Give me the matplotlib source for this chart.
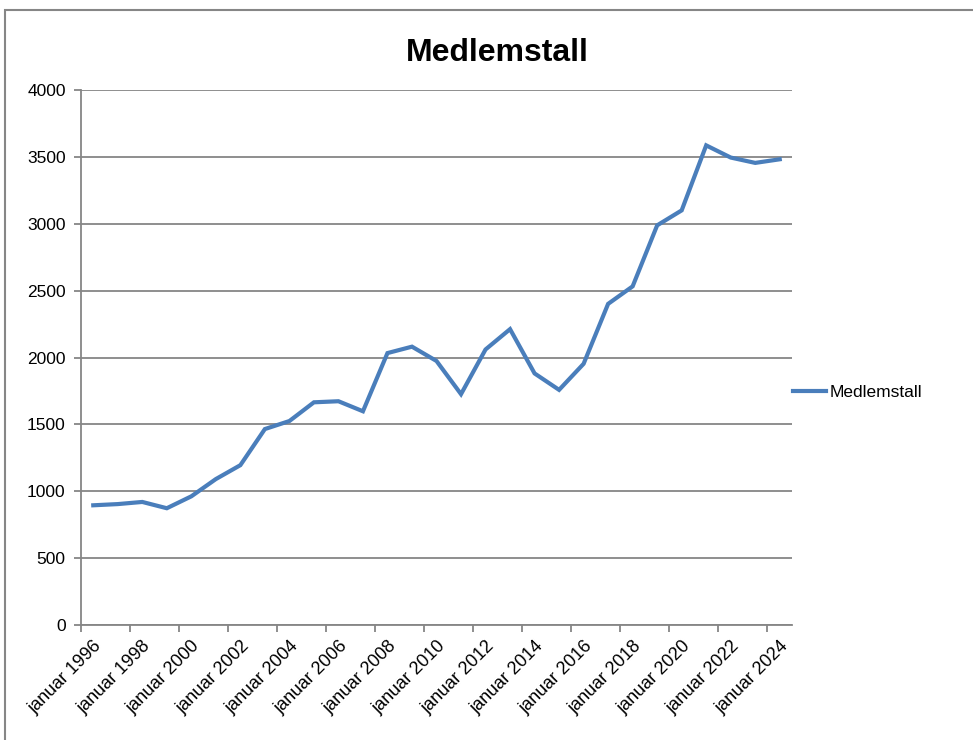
import matplotlib.pyplot as plt
from matplotlib.patches import Rectangle

plt.rcParams['font.family'] = ['Liberation Sans', 'DejaVu Sans']

# Medlemstall per januar, 1996-2024
years = list(range(1996, 2025))
members = [895, 904, 920, 873, 962, 1091, 1195, 1465, 1525, 1665, 1673, 1598,
           2033, 2081, 1974, 1726, 2060, 2212, 1881, 1758, 1953, 2401, 2532,
           2988, 3100, 3586, 3495, 3455, 3482]
labels = ["januar %d" % y for y in years]
yticks = [0, 500, 1000, 1500, 2000, 2500, 3000, 3500, 4000]

grey = "#868686"
blue = "#4a7ebb"

fig = plt.figure(figsize=(9.73, 7.40), dpi=100)
ax = fig.add_axes([81 / 973, 1 - 625 / 740, (792 - 81) / 973, (625 - 90) / 740])

x = list(range(len(years)))
ax.plot(x, members, color=blue, linewidth=3, solid_joinstyle="miter", label="Medlemstall")

ax.set_xlim(-0.5, len(years) - 0.5)
ax.set_ylim(0, 4000)
ax.set_yticks(yticks)
ax.set_yticklabels([str(v) for v in yticks], fontsize=12.5)
ax.yaxis.grid(True, color=grey, linewidth=1.3)
ax.set_axisbelow(True)

# ticks between categories, labels on every other category
ax.set_xticks([i - 0.5 for i in range(0, len(years), 2)])
ax.set_xticks(x[::2], minor=True)
ax.set_xticklabels([])
ax.set_xticklabels(labels[::2], minor=True, rotation=45, ha="right", rotation_mode="anchor",
                   fontsize=13)
ax.tick_params(axis="x", which="minor", length=0, pad=9)
ax.tick_params(axis="x", which="major", length=5, color=grey, width=1.3)
ax.tick_params(axis="y", length=5, color=grey, width=1.3, pad=6)

for s in ["top", "right"]:
    ax.spines[s].set_visible(False)
for s in ["left", "bottom"]:
    ax.spines[s].set_color(grey)
    ax.spines[s].set_linewidth(1.3)

fig.text(497 / 973, 1 - 53 / 740, "Medlemstall", fontsize=23, fontweight="bold",
         ha="center", va="center")

ax.legend(loc="center left", bbox_to_anchor=(0.98, 0.434), frameon=False, fontsize=12.5,
          handlelength=1.9, handletextpad=0.2)

fig.patches.append(Rectangle((5 / 973, -0.1), 1.2, 1.1 - 10 / 740, transform=fig.transFigure,
                             fill=False, edgecolor=grey, linewidth=1.5, clip_on=False))

fig.savefig("out.png", dpi=100)
